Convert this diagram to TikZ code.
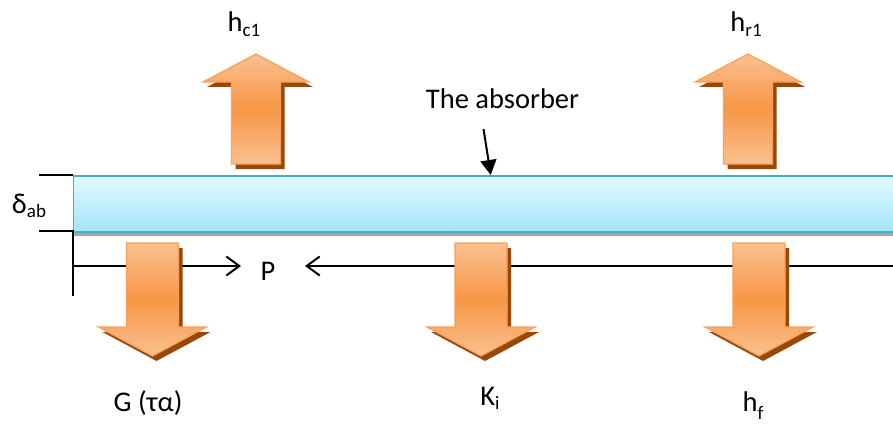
\documentclass[tikz,border=0pt]{standalone}
\usepackage{fontspec}
\setmainfont{Carlito}
\usetikzlibrary{arrows.meta}
\definecolor{orL}{HTML}{FAC090}
\definecolor{orM}{HTML}{F79646}
\definecolor{orE}{HTML}{F9A05A}
\definecolor{orS}{HTML}{984807}
\definecolor{barT}{HTML}{E2F9FE}
\definecolor{barB}{HTML}{A2E5F8}
\definecolor{barE}{HTML}{4BACC6}
\definecolor{barS}{HTML}{A6A6A6}
\newcommand\sbs[2]{#1\raisebox{-0.16em}{\fontsize{19}{19}\selectfont #2}}
\tikzset{
  lbl/.style={font=\fontsize{28.5}{32}\selectfont, inner sep=0pt, anchor=base},
  thin line/.style={line width=2pt, black},
  barb/.style={-{Straight Barb[length=13pt,width=19pt,line width=2pt]}},
  bigarrow/.style={draw=orE, line width=1.2pt, top color=orL, bottom color=orL, middle color=orM},
  uparr/.pic={
    \fill[orS, shift={(4,5)}] (-24.5,164) -- (-24.5,82) -- (-53,82) -- (0,54) -- (53,82) -- (24.5,82) -- (24.5,164) -- cycle;
    \path[bigarrow] (-24.5,164) -- (-24.5,82) -- (-53,82) -- (0,54) -- (53,82) -- (24.5,82) -- (24.5,164) -- cycle;
  },
  downarr/.pic={
    \fill[orS, shift={(4,5)}] (-26,243) -- (26,243) -- (26,327) -- (54,327) -- (0,356) -- (-54,327) -- (-26,327) -- cycle;
    \path[bigarrow] (-26,243) -- (26,243) -- (26,327) -- (54,327) -- (0,356) -- (-54,327) -- (-26,327) -- cycle;
  }
}
\begin{document}
\begin{tikzpicture}[x=1pt,y=-1pt]
\useasboundingbox (0,0) rectangle (893,425);
\clip (0,0) rectangle (893,425);
\fill[white] (0,0) rectangle (893,425);

% absorber plate
\fill[barS] (72.5,229) rectangle (900,236);
\node[draw=barE, line width=1.5pt, top color=barT, bottom color=barB,
      minimum width=828pt, minimum height=56pt, inner sep=0pt, anchor=north west]
  (absorber) at (72.5,175) {};

% thickness ticks
\coordinate (t1a) at (39,175); \coordinate (t1b) at (72.5,175);
\coordinate (t2a) at (39,231); \coordinate (t2b) at (72.5,231);
\draw[thin line] (t1a) -- (t1b);
\draw[thin line] (t2a) -- (t2b);
\coordinate (v1) at (72.5,230); \coordinate (v2) at (72.5,296);
\draw[thin line] (v1) -- (v2);

% P arrows
\node[lbl] (P) at (268,280) {P};
\coordinate (pl) at (72.5,266); \coordinate (pr) at (241,266);
\draw[thin line, barb] (pl) -- (pr);
\coordinate (ql) at (900,266); \coordinate (qr) at (305,266);
\draw[thin line, barb] (ql) -- (qr);

% big arrows
\pic at (256,0) {uparr};
\pic at (748,0) {uparr};
\pic at (152.5,0) {downarr};
\pic at (481,0) {downarr};
\pic at (759,0) {downarr};

% absorber label and arrow
\node[lbl] (absl) at (502.5,108.5) {The absorber};
\coordinate (a1) at (483.5,129);
\draw[thin line, -{Triangle[length=15pt,width=16pt]}] (a1) -- ([xshift=3.5pt]absorber.north);

% labels
\node[lbl] (hc) at (244,31.5) {\sbs{h}{c1}};
\node[lbl] (hr) at (746,31.5) {\sbs{h}{r1}};
\node[lbl] (dab) at (29,213) {\sbs{δ}{ab}};
\node[lbl] (G) at (148,411.5) {G (τα)};
\node[lbl] (K) at (490,405) {\sbs{K}{i}};
\node[lbl] (hf) at (753,411) {h\raisebox{-0.3em}{\fontsize{19}{19}\selectfont f}};
\end{tikzpicture}
\end{document}
